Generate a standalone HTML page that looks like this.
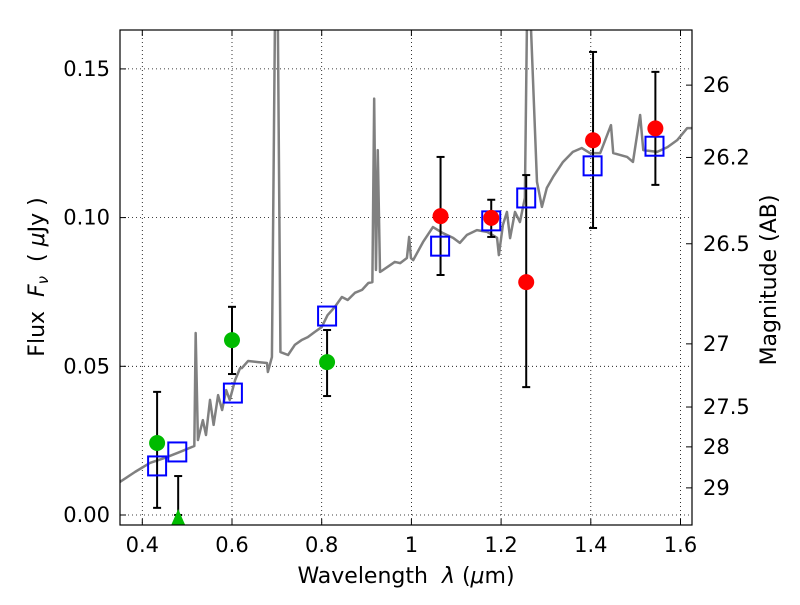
<!DOCTYPE html>
<html><head><meta charset="utf-8"><style>
body{margin:0;background:#fff;}
svg text{font-family:"DejaVu Sans","Liberation Sans",sans-serif;}
</style></head><body>
<svg id="c" width="800" height="600"></svg>
<script>
const specX=[0.350,0.384,0.417,0.450,0.484,0.516,0.519,0.524,0.535,0.542,0.551,0.559,0.569,0.578,0.587,0.595,0.607,0.618,0.622,0.636,0.658,0.678,0.680,0.689,0.696,0.702,0.708,0.725,0.740,0.756,0.769,0.784,0.800,0.813,0.829,0.845,0.858,0.874,0.890,0.904,0.913,0.917,0.921,0.925,0.930,0.963,0.975,0.990,0.995,0.999,1.004,1.026,1.048,1.070,1.093,1.108,1.124,1.146,1.169,1.191,1.195,1.204,1.213,1.220,1.231,1.242,1.253,1.258,1.265,1.280,1.291,1.302,1.316,1.338,1.360,1.380,1.398,1.421,1.445,1.450,1.481,1.494,1.510,1.517,1.548,1.571,1.593,1.615,1.627];
const specY=[0.0111,0.0145,0.0175,0.0192,0.0212,0.0232,0.0612,0.0252,0.0319,0.0269,0.0387,0.0303,0.0403,0.0353,0.0420,0.0387,0.0454,0.0494,0.0494,0.0518,0.0514,0.0511,0.0481,0.0531,0.17,0.17,0.0548,0.0538,0.0572,0.0589,0.0598,0.0615,0.0632,0.0672,0.0699,0.0733,0.0723,0.0747,0.0757,0.0780,0.0783,0.140,0.0824,0.1227,0.0817,0.0851,0.0847,0.0864,0.0935,0.0864,0.0857,0.0918,0.0968,0.0948,0.0932,0.0915,0.0942,0.0958,0.0952,0.0932,0.0874,0.0975,0.1019,0.0931,0.1019,0.0985,0.1066,0.17,0.17,0.1120,0.1036,0.1100,0.1137,0.1187,0.1221,0.1234,0.1217,0.1217,0.1311,0.1217,0.1204,0.1187,0.1345,0.1227,0.1221,0.1237,0.1261,0.1301,0.1301];
const greenX=[0.433,0.600,0.812];
const greenY=[0.0242,0.0588,0.0514];
const greenLo=[0.0024,0.0474,0.040];
const greenHi=[0.0414,0.070,0.0622];
const limX=[0.480];const limY=[0.0];const limHi=[0.0131];
const redX=[1.065,1.178,1.256,1.405,1.544];
const redY=[0.1005,0.0999,0.0783,0.126,0.130];
const redLo=[0.0807,0.0935,0.043,0.0965,0.111];
const redHi=[0.1204,0.106,0.1143,0.1557,0.149];
const modX=[0.433,0.478,0.602,0.812,1.064,1.178,1.256,1.404,1.542];
const modY=[0.0165,0.0212,0.041,0.0669,0.0904,0.0989,0.1066,0.1174,0.124];
const xTicks=[0.4,0.6,0.8,1.0,1.2,1.4,1.6];
const xTickLabels=["0.4","0.6","0.8","1","1.2","1.4","1.6"];
const yTicks=[0,0.05,0.10,0.15];
const yTickLabels=["0.00","0.05","0.10","0.15"];
const magTicks=[26,26.2,26.5,27,27.5,28,29];
const magTickLabels=["26","26.2","26.5","27","27.5","28","29"];

const L=120,R=692,T=30,B=525;
const X=v=>142.3+(v-0.4)*448.5;
const Y=v=>515-v*2974;
const svg=document.getElementById('c');
const NS='http://www.w3.org/2000/svg';
function mk(tag,a,parent){const e=document.createElementNS(NS,tag);for(const k in a)e.setAttribute(k,a[k]);(parent||svg).appendChild(e);return e;}
const clip=mk('clipPath',{id:'cp'});mk('rect',{x:L,y:T,width:R-L,height:B-T},clip);
const grid=mk('g',{});


xTicks.forEach((t,i)=>{const x=X(t);
 mk('line',{x1:x,x2:x,y1:T,y2:B,stroke:'#000','stroke-width':0.8,'stroke-dasharray':'1,3'},grid);
 mk('line',{x1:x,x2:x,y1:B,y2:B-6,stroke:'#000'});mk('line',{x1:x,x2:x,y1:T,y2:T+6,stroke:'#000'});
 const tx=mk('text',{x:x,y:B+27,'font-size':21,'text-anchor':'middle'});tx.textContent=xTickLabels[i];
 
 
});
yTicks.forEach((t,i)=>{const y=Y(t);
 mk('line',{x1:L,x2:R,y1:y,y2:y,stroke:'#000','stroke-width':0.8,'stroke-dasharray':'1,3'},grid);
 mk('line',{x1:L,x2:L+6,y1:y,y2:y,stroke:'#000'});
 const tx=mk('text',{x:L-10,y:y+7,'font-size':21,'text-anchor':'end'});tx.textContent=yTickLabels[i];
 
 
});
magTicks.forEach((m,i)=>{const f=Math.pow(10,(23.9-m)/2.5);const y=Y(f);
 mk('line',{x1:R,x2:R-6,y1:y,y2:y,stroke:'#000'});
 const tx=mk('text',{x:R+11,y:y+7,'font-size':21});tx.textContent=magTickLabels[i];
 
 
});
const g=mk('g',{'clip-path':'url(#cp)'});
const pl=mk('polyline',{points:specX.map((x,i)=>X(x)+','+Y(specY[i])).join(' '),fill:'none',stroke:'#808080','stroke-width':2.5,'stroke-linejoin':'round'},g);


function eb(x,lo,hi){const xx=X(x);mk('line',{x1:xx,x2:xx,y1:Y(lo),y2:Y(hi),stroke:'#000','stroke-width':2},g);
 [lo,hi].forEach(v=>mk('line',{x1:xx-4,x2:xx+4,y1:Y(v),y2:Y(v),stroke:'#000','stroke-width':2},g));}
greenX.forEach((x,i)=>eb(x,greenLo[i],greenHi[i]));
limX.forEach((x,i)=>eb(x,limY[i],limHi[i]));
redX.forEach((x,i)=>eb(x,redLo[i],redHi[i]));
modX.forEach((x,i)=>{const r=mk('rect',{x:X(x)-9,y:Y(modY[i])-9.5,width:18,height:19,fill:'none',stroke:'#0000ff','stroke-width':2},g);
 
 });
greenX.forEach((x,i)=>{const c=mk('circle',{cx:X(x),cy:Y(greenY[i]),r:8,fill:'#00bb00'},g);
 
 });
limX.forEach((x,i)=>{const xx=X(x),yy=Y(limY[i]);const p=mk('polygon',{points:`${xx-7},${yy+10} ${xx+7},${yy+10} ${xx},${yy-6}`,fill:'#00bb00'},g);
 
 });
redX.forEach((x,i)=>{const c=mk('circle',{cx:X(x),cy:Y(redY[i]),r:8,fill:'#ff0000'},g);
 
 });
const fr=mk('rect',{x:L,y:T,width:R-L,height:B-T,fill:'none',stroke:'#000','stroke-width':1.2});


</script>
<svg width="800" height="600" style="position:absolute;left:0;top:0">
<text x="406" y="583" font-size="22" text-anchor="middle" style="font-family:'DejaVu Sans',sans-serif;white-space:pre">Wavelength  <tspan font-style="italic">λ</tspan> (<tspan font-style="italic">μ</tspan>m)</text>
<text transform="translate(44,277) rotate(-90)" font-size="22" text-anchor="middle" style="font-family:'DejaVu Sans',sans-serif;white-space:pre">Flux  <tspan font-style="italic">F</tspan><tspan font-size="15" font-style="italic" dy="4">ν</tspan><tspan dy="-4">  ( </tspan><tspan font-style="italic">μ</tspan>Jy )</text>
<text transform="translate(776,280) rotate(-90)" font-size="22" text-anchor="middle" style="font-family:'DejaVu Sans',sans-serif">Magnitude (AB)</text>
</svg>
</body></html>
